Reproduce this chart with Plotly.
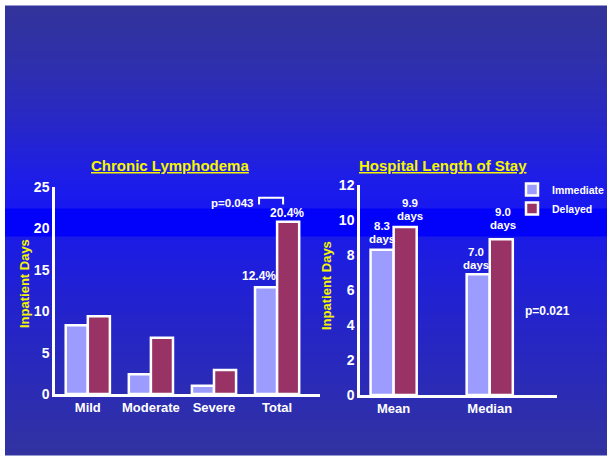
import plotly.graph_objects as go

# ---- data ----
lymph_categories = ["Mild", "Moderate", "Severe", "Total"]
lymph_immediate = [8.3, 2.4, 1.0, 12.9]
lymph_delayed = [9.4, 6.8, 2.9, 20.8]
lymph_ticks = [0, 5, 10, 15, 20, 25]

los_categories = ["Mean", "Median"]
los_immediate = [8.3, 6.9]
los_delayed = [9.6, 8.9]
los_ticks = [0, 2, 4, 6, 8, 10, 12]

W, H = 613, 462
FONT = "Arial, Liberation Sans, Helvetica, sans-serif"
IMM_COLOR = "#9c9cff"
DEL_COLOR = "#993366"
YELLOW = "#f5f500"


def px(xp):
    return xp / W


def py(yp):
    return 1 - yp / H


fig = go.Figure()

# ---- slide background gradient (decoration) ----
top, bot = 5.5, 455.5
stops = [(5.5, "#32339a"), (60, "#2f30aa"), (120, "#2828c6"), (175, "#1e1ee6"),
         (208, "#1818f0"), (209, "#0202fa"), (236, "#0202fa"), (237, "#1b1be6"),
         (300, "#2222d0"), (380, "#2a2ab8"), (455.5, "#3233a0")]
cs = [[(y - top) / (bot - top), c] for y, c in stops]
rows = [top + i for i in range(int(bot - top) + 1)]
fig.add_trace(go.Heatmap(
    x=[0, 1], y=rows, z=[[(r - top) / (bot - top)] * 2 for r in rows],
    colorscale=cs, zmin=0, zmax=1, showscale=False, hoverinfo="skip",
    xaxis="x", yaxis="y"))

# ---- left chart ----
bar_line = dict(color="white", width=2.5)
fig.add_trace(go.Bar(x=lymph_categories, y=lymph_immediate, name="Immediate",
                     marker=dict(color=IMM_COLOR, line=bar_line),
                     xaxis="x2", yaxis="y2", showlegend=True, legendgroup="imm"))
fig.add_trace(go.Bar(x=lymph_categories, y=lymph_delayed, name="Delayed",
                     marker=dict(color=DEL_COLOR, line=bar_line),
                     xaxis="x2", yaxis="y2", showlegend=True, legendgroup="del"))

# ---- right chart ----
fig.add_trace(go.Bar(x=los_categories, y=los_immediate, name="Immediate",
                     marker=dict(color=IMM_COLOR, line=bar_line),
                     width=0.24, offset=-0.24,
                     xaxis="x3", yaxis="y3", showlegend=False, legendgroup="imm"))
fig.add_trace(go.Bar(x=los_categories, y=los_delayed, name="Delayed",
                     marker=dict(color=DEL_COLOR, line=bar_line),
                     width=0.24, offset=0.0,
                     xaxis="x3", yaxis="y3", showlegend=False, legendgroup="del"))

tickfont = dict(family=FONT, size=14, color="white", weight="bold")
xtickfont = dict(family=FONT, size=13, color="white", weight="bold")

fig.update_layout(
    width=W, height=H,
    margin=dict(l=0, r=0, t=0, b=0, pad=0, autoexpand=False),
    paper_bgcolor="white", plot_bgcolor="rgba(0,0,0,0)",
    barmode="group",
    font=dict(family=FONT, color="white"),
    xaxis=dict(domain=[px(5), px(607)], range=[0, 1], visible=False, fixedrange=True),
    yaxis=dict(domain=[py(455.5), py(5.5)], range=[bot, top], visible=False, fixedrange=True),
    xaxis2=dict(domain=[px(55), px(320)], range=[-0.52, 3.68], anchor="y2",
                showline=True, linecolor="white", linewidth=2.5, showgrid=False,
                ticks="", tickfont=xtickfont, zeroline=False, automargin=False),
    yaxis2=dict(domain=[py(394), py(187)], range=[0, 25], anchor="x2",
                tickvals=lymph_ticks, showline=True, linecolor="white", linewidth=2.5,
                showgrid=False, ticks="", tickfont=tickfont, zeroline=False, automargin=False),
    xaxis3=dict(domain=[px(360), px(557)], range=[-0.35, 1.7], anchor="y3",
                showline=True, linecolor="white", linewidth=2.5, showgrid=False,
                ticks="", tickfont=xtickfont, zeroline=False, automargin=False),
    yaxis3=dict(domain=[py(395), py(185)], range=[0, 12], anchor="x3",
                tickvals=los_ticks, showline=True, linecolor="white", linewidth=2.5,
                showgrid=False, ticks="", tickfont=tickfont, zeroline=False, automargin=False),
    bargap=0.3,
    legend=dict(x=px(512), y=py(175), xanchor="left", yanchor="top",
                bgcolor="rgba(0,0,0,0)",
                font=dict(family=FONT, size=10.5, color="white", weight="bold"),
                tracegroupgap=0, itemclick=False, itemdoubleclick=False),
    showlegend=True,
)

ann = []


def label(text, x, y, xref, yref, size=11.5, color="white", angle=0, u=False):
    t = f"<b>{text}</b>"
    if u:
        t = f"<u>{t}</u>"
    ann.append(dict(text=t, x=x, y=y, xref=xref, yref=yref, showarrow=False,
                    font=dict(family=FONT, size=size, color=color),
                    textangle=angle, xanchor="center", yanchor="middle"))


# titles
label("Chronic Lymphodema", px(170), py(165), "paper", "paper", size=15, color=YELLOW, u=True)
label("Hospital Length of Stay", px(443), py(165), "paper", "paper", size=15, color=YELLOW, u=True)
# y axis titles
label("Inpatient Days", px(24), py(283), "paper", "paper", size=13, color=YELLOW, angle=-90)
label("Inpatient Days", px(326), py(285), "paper", "paper", size=13, color=YELLOW, angle=-90)

# left chart notes
label("12.4%", 2.714, 14.25, "x2", "y2", size=12)
label("20.4%", 3.16, 21.9, "x2", "y2", size=12)
label("p=0.043", 2.30, 23.1, "x2", "y2", size=11.5)

# right chart notes
for num, xc, y1, y2 in [("8.3", -0.125, 9.66, 8.91), ("9.9", 0.167, 10.97, 10.23),
                        ("7.0", 0.854, 8.17, 7.43), ("9.0", 1.135, 10.46, 9.71)]:
    label(num, xc, y1, "x3", "y3", size=11.5)
    label("days", xc, y2, "x3", "y3", size=11.5)
label("p=0.021", 1.6, 4.8, "x3", "y3", size=12)

fig.update_layout(annotations=ann)

# bracket for p=0.043
fig.add_shape(type="path", xref="x2", yref="y2",
              path="M 2.714,22.9 L 2.714,23.7 L 3.095,23.7 L 3.095,22.9",
              line=dict(color="white", width=2))

fig.write_html("out.html", config={"displayModeBar": False},
               post_script="document.body.style.margin='0';document.body.style.overflow='hidden';")
